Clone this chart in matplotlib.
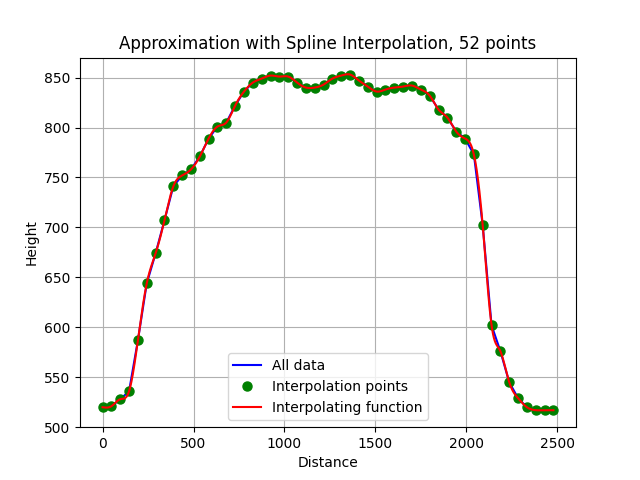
import numpy as np
import matplotlib
matplotlib.use('Agg')
import matplotlib.pyplot as plt

step = 48.6
heights = [520, 521, 528, 536, 587, 644, 674, 707, 741, 752,
           758, 771, 789, 801, 805, 822, 836, 845, 849, 852,
           851, 851, 845, 840, 840, 843, 849, 852, 853, 847,
           841, 836, 838, 840, 841, 842, 838, 832, 818, 810,
           796, 789, 773, 702, 602, 576, 545, 529, 520, 517,
           517, 517]
dist = [i * step for i in range(len(heights))]


def natural_spline(x, y, xs):
    x = np.asarray(x, float)
    y = np.asarray(y, float)
    n = len(x)
    h = np.diff(x)
    A = np.zeros((n, n))
    b = np.zeros(n)
    A[0, 0] = A[-1, -1] = 1
    for i in range(1, n - 1):
        A[i, i - 1] = h[i - 1]
        A[i, i] = 2 * (h[i - 1] + h[i])
        A[i, i + 1] = h[i]
        b[i] = 3 * ((y[i + 1] - y[i]) / h[i] - (y[i] - y[i - 1]) / h[i - 1])
    c = np.linalg.solve(A, b)
    k = np.clip(np.searchsorted(x, xs) - 1, 0, n - 2)
    t = xs - x[k]
    bb = (y[k + 1] - y[k]) / h[k] - h[k] * (2 * c[k] + c[k + 1]) / 3
    d = (c[k + 1] - c[k]) / (3 * h[k])
    return y[k] + bb * t + c[k] * t ** 2 + d * t ** 3


xs = np.linspace(dist[0], dist[-1], 1000)
ys = natural_spline(dist, heights, xs)

fig = plt.figure(figsize=(6.4, 4.8), dpi=100)
plt.plot(dist, heights, 'b-', label='All data')
plt.plot(dist, heights, 'go', markersize=6.5, label='Interpolation points')
plt.plot(xs, ys, 'r-', label='Interpolating function')
plt.title('Approximation with Spline Interpolation, 52 points')
plt.xlabel('Distance')
plt.ylabel('Height')
plt.ylim(500, 870)
plt.grid(True)
plt.legend(loc='lower center')
plt.savefig('out.png', dpi=100)
